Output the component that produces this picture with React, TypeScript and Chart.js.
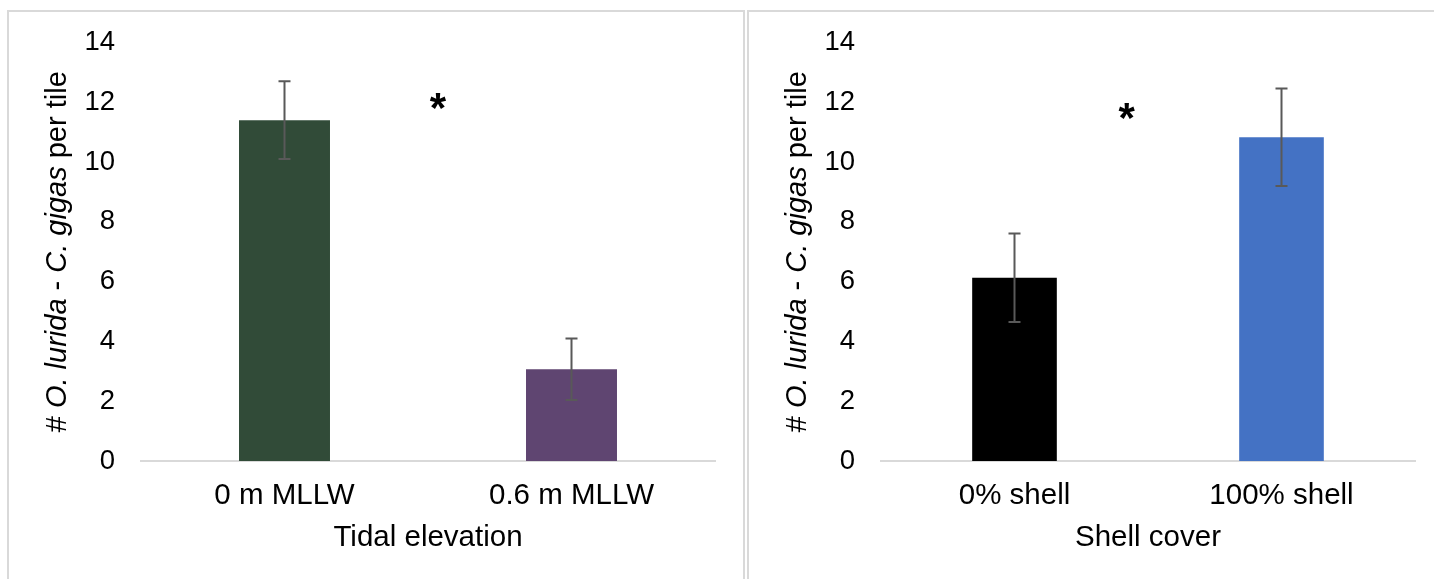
import React, { useEffect, useRef } from 'react';
import { Chart, registerables } from 'chart.js';

Chart.register(...registerables);

const FONT = '"Liberation Sans", Arial, Helvetica, sans-serif';

// ---- data ----
const leftCategories = ['0 m MLLW', '0.6 m MLLW'];
const leftMeans = [11.4, 3.07];
const leftErrors = [1.3, 1.03];
const leftColors = ['#314B38', '#5F4571'];
const leftXTitle = 'Tidal elevation';
const leftStar = [0.535, 12.03]; // [category index position, value]

const rightCategories = ['0% shell', '100% shell'];
const rightMeans = [6.13, 10.83];
const rightErrors = [1.48, 1.63];
const rightColors = ['#000000', '#4472C4'];
const rightXTitle = 'Shell cover';
const rightStar = [0.42, 11.7];

const yMin = 0;
const yMax = 14;
const yStep = 2;

const yTitleParts = [
  { text: '# ', italic: false },
  { text: 'O. lurida', italic: true },
  { text: ' - ', italic: false },
  { text: 'C. gigas', italic: true },
  { text: ' per tile', italic: false },
];

type PanelProps = {
  categories: string[];
  means: number[];
  errors: number[];
  colors: string[];
  xTitle: string;
  star: number[];
  left: number;
  width: number;
  padRight: number;
  yWidth: number;
};

function Panel(p: PanelProps) {
  const ref = useRef<HTMLCanvasElement>(null);
  useEffect(() => {
    const canvas = ref.current!;
    const errorBars = {
      id: 'errorBars',
      afterDatasetsDraw(chart: any) {
        const ctx = chart.ctx;
        const meta = chart.getDatasetMeta(0);
        const ys = chart.scales.y;
        ctx.save();
        ctx.strokeStyle = '#595959';
        ctx.lineWidth = 2;
        p.means.forEach((m, i) => {
          const el = meta.data[i];
          if (!el) return;
          const x = el.x;
          const yTop = ys.getPixelForValue(m + p.errors[i]);
          const yBot = ys.getPixelForValue(m - p.errors[i]);
          ctx.beginPath();
          ctx.moveTo(x, yTop);
          ctx.lineTo(x, yBot);
          ctx.moveTo(x - 6, yTop);
          ctx.lineTo(x + 6, yTop);
          ctx.moveTo(x - 6, yBot);
          ctx.lineTo(x + 6, yBot);
          ctx.stroke();
        });
        ctx.restore();
      },
    };
    const annotations = {
      id: 'annotations',
      afterDraw(chart: any) {
        const ctx = chart.ctx;
        const area = chart.chartArea;
        // y-axis title with italic species names
        ctx.save();
        const cx = area.left - 83;
        const cy = (area.top + area.bottom) / 2;
        ctx.translate(cx, cy);
        ctx.rotate(-Math.PI / 2);
        ctx.fillStyle = '#000';
        ctx.textBaseline = 'middle';
        ctx.textAlign = 'left';
        const fontFor = (it: boolean) => `${it ? 'italic ' : ''}29px ${FONT}`;
        let total = 0;
        yTitleParts.forEach((part) => {
          ctx.font = fontFor(part.italic);
          total += ctx.measureText(part.text).width;
        });
        let x = -total / 2;
        yTitleParts.forEach((part) => {
          ctx.font = fontFor(part.italic);
          ctx.fillText(part.text, x, 0);
          x += ctx.measureText(part.text).width;
        });
        ctx.restore();
        // significance asterisk
        ctx.save();
        const sx = chart.scales.x.getPixelForValue(p.star[0]);
        const sy = chart.scales.y.getPixelForValue(p.star[1]);
        ctx.font = `bold 42px ${FONT}`;
        ctx.fillStyle = '#000';
        ctx.textAlign = 'center';
        ctx.textBaseline = 'alphabetic';
        const mt = ctx.measureText('*');
        const asc = mt.actualBoundingBoxAscent;
        const desc = mt.actualBoundingBoxDescent;
        ctx.fillText('*', sx, sy + (asc - desc) / 2);
        ctx.restore();
      },
    };
    const chart = new Chart(canvas, {
      type: 'bar',
      data: {
        labels: p.categories,
        datasets: [
          {
            data: p.means,
            backgroundColor: p.colors,
            borderWidth: 0,
            categoryPercentage: 1,
            barPercentage: 0.317,
          },
        ],
      },
      options: {
        responsive: false,
        animation: false,
        layout: { padding: { left: 0, right: p.padRight, top: 41, bottom: 18 } },
        plugins: { legend: { display: false }, tooltip: { enabled: false }, title: { display: false } },
        scales: {
          x: {
            grid: { display: false, drawTicks: false },
            border: { display: true, color: '#d9d9d9', width: 2 },
            ticks: {
              color: '#000',
              font: { family: FONT, size: 29.5 },
              padding: 17,
              maxRotation: 0,
              autoSkip: false,
            },
            title: {
              display: true,
              text: p.xTitle,
              color: '#000',
              font: { family: FONT, size: 29.5 },
              padding: { top: 0, bottom: 5 },
            },
            afterFit: (s: any) => {
              s.height = 100;
            },
          },
          y: {
            min: yMin,
            max: yMax,
            ticks: {
              stepSize: yStep,
              color: '#000',
              font: { family: FONT, size: 27.5 },
              padding: 26,
            },
            grid: { display: false, drawTicks: false },
            border: { display: false },
            afterFit: (s: any) => {
              s.width = p.yWidth;
            },
          },
        },
      },
      plugins: [errorBars, annotations],
    } as any);
    return () => chart.destroy();
  }, []);
  return (
    <canvas
      ref={ref}
      width={p.width}
      height={579}
      style={{ position: 'absolute', left: p.left, top: 0, width: p.width, height: 579 }}
    />
  );
}

export default function App() {
  return (
    <div
      style={{
        position: 'fixed',
        left: 0,
        top: 0,
        width: 1434,
        height: 579,
        overflow: 'hidden',
        background: '#fff',
      }}
    >
      <div
        style={{
          position: 'absolute',
          left: 7,
          top: 10,
          width: 738,
          height: 620,
          boxSizing: 'border-box',
          border: '2px solid #d9d9d9',
        }}
      />
      <div
        style={{
          position: 'absolute',
          left: 747,
          top: 10,
          width: 740,
          height: 620,
          boxSizing: 'border-box',
          border: '2px solid #d9d9d9',
        }}
      />
      <Panel
        categories={leftCategories}
        means={leftMeans}
        errors={leftErrors}
        colors={leftColors}
        xTitle={leftXTitle}
        star={leftStar}
        left={0}
        width={744}
        padRight={29}
        yWidth={141}
      />
      <Panel
        categories={rightCategories}
        means={rightMeans}
        errors={rightErrors}
        colors={rightColors}
        xTitle={rightXTitle}
        star={rightStar}
        left={746}
        width={688}
        padRight={19}
        yWidth={135}
      />
    </div>
  );
}
